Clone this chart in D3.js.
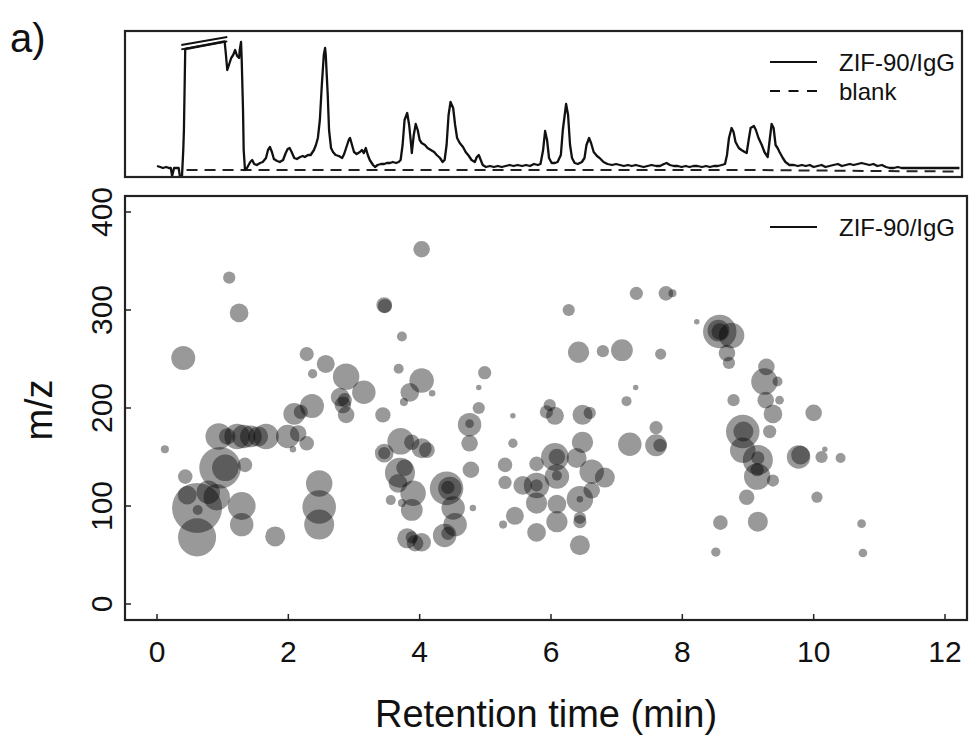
<!DOCTYPE html>
<html><head><meta charset="utf-8">
<script src="https://cdn.jsdelivr.net/npm/d3@7"></script>
<style>body{margin:0;background:#fff} svg{display:block} text{font-family:"Liberation Sans",Arial,sans-serif;fill:#111}</style>
</head><body><svg id="c" width="972" height="736"></svg>
<script>
// ---- Chromatogram (top panel), retention time in min, signal in a.u. ----
const chromTime = [0.00,0.05,0.09,0.14,0.18,0.21,0.23,0.26,0.30,0.33,0.35,0.38,0.40,0.41,0.43,1.03,1.05,1.07,1.10,1.13,1.16,1.19,1.22,1.25,1.26,1.28,1.29,1.31,1.32,1.34,1.37,1.42,1.45,1.48,1.52,1.57,1.61,1.66,1.69,1.72,1.75,1.78,1.83,1.87,1.92,1.96,1.99,2.02,2.05,2.09,2.13,2.18,2.22,2.25,2.30,2.34,2.39,2.42,2.45,2.48,2.51,2.54,2.56,2.57,2.60,2.62,2.65,2.68,2.72,2.77,2.82,2.85,2.88,2.92,2.94,2.97,3.00,3.04,3.09,3.12,3.15,3.18,3.21,3.24,3.29,3.32,3.36,3.41,3.46,3.50,3.55,3.59,3.64,3.68,3.71,3.74,3.77,3.81,3.84,3.87,3.88,3.91,3.94,3.97,4.00,4.03,4.08,4.12,4.17,4.22,4.26,4.31,4.35,4.38,4.41,4.44,4.47,4.51,4.54,4.57,4.61,4.66,4.70,4.75,4.79,4.84,4.87,4.90,4.93,4.96,5.01,5.07,5.13,5.19,5.25,5.31,5.37,5.43,5.49,5.56,5.62,5.68,5.74,5.80,5.84,5.88,5.91,5.94,5.97,6.01,6.06,6.10,6.15,6.18,6.23,6.26,6.29,6.32,6.36,6.41,6.47,6.51,6.54,6.58,6.61,6.65,6.70,6.74,6.80,6.86,6.93,6.99,7.05,7.11,7.17,7.23,7.29,7.35,7.41,7.47,7.53,7.60,7.66,7.72,7.76,7.81,7.87,7.93,7.99,8.05,8.11,8.17,8.23,8.30,8.36,8.42,8.48,8.54,8.60,8.65,8.68,8.71,8.75,8.78,8.81,8.86,8.90,8.95,8.98,9.01,9.04,9.09,9.12,9.16,9.21,9.25,9.30,9.33,9.36,9.39,9.42,9.45,9.48,9.53,9.57,9.63,9.70,9.76,9.82,9.88,9.94,10.00,10.06,10.12,10.18,10.24,10.30,10.37,10.43,10.49,10.55,10.61,10.67,10.73,10.79,10.85,10.91,10.97,11.04,11.10,11.16,11.22,11.28,11.34,11.40,11.46,11.54,11.61,11.69,11.77,11.84,11.92,11.99,12.07,12.15,12.22];
const chromSignal = [11,10,9,10,9,9,1,9,9,9,0,0,27,47,128,135.5,122,107,113,119,122,127,121,119,127,135,117,67,27,7,9,15,17,13,12,14,15,19,27,30,25,18,16,15,17,24,28,29,25,19,18,20,21,20,22,22,27,32,39,57,92,122,129,122,82,47,29,25,22,21,19,23,29,37,39,32,25,23,25,27,24,29,22,17,12,10,12,13,13,14,14,15,14,15,17,32,57,64,52,32,24,42,53,47,37,34,32,29,27,25,22,19,15,17,32,62,75,69,52,39,34,30,25,21,17,15,20,22,17,12,10,11,10,11,10,11,12,11,12,11,12,11,13,12,13,27,46,37,19,14,14,15,22,47,73,62,32,19,14,13,15,19,32,39,34,25,21,19,15,13,12,13,12,11,12,11,12,11,10,11,12,11,11,13,14,12,11,11,10,11,10,11,11,10,11,10,11,11,12,13,22,39,49,45,35,29,27,25,24,37,49,51,47,39,32,25,20,37,53,49,32,29,25,19,15,12,12,11,12,11,12,10,11,12,10,11,12,13,11,12,13,12,13,14,13,12,13,11,12,10,9,9,10,9,9,9,9,9,9,9,9,9,9,9,9,9];
const blankTime = [0.45,3.0,6.0,9.0,11.0,12.22];
const blankSignal = [7,7,7,7,6,5.5];
// clipped-peak break mark (retention time, signal)
const breakTime = [0.37,1.07];
const breakSignal = [132,140];

// ---- Bubble plot: retention time (min), m/z, relative intensity ----
const peakTime = [0.12,0.40,1.10,1.25,0.43,0.46,0.78,0.91,0.61,0.61,0.96,1.04,1.34,0.62,0.94,1.07,1.22,1.32,1.43,1.54,1.66,1.99,2.15,2.28,2.07,2.09,2.19,2.36,2.28,2.57,2.37,2.88,3.15,2.79,2.83,2.88,2.86,3.44,3.46,3.47,3.73,3.68,4.03,4.03,3.85,4.19,3.76,3.46,3.46,3.71,3.88,4.03,4.11,3.70,3.77,3.67,3.90,3.88,3.56,3.73,3.81,3.88,4.03,3.93,4.41,4.46,4.43,4.51,4.54,4.38,4.43,4.76,4.76,4.76,4.99,4.90,4.90,4.78,4.81,5.42,5.42,5.30,5.30,5.27,5.45,5.78,5.57,5.78,5.78,5.78,5.78,5.98,5.93,6.06,6.06,6.09,6.39,6.62,6.82,6.09,6.09,6.09,6.44,6.44,6.62,6.44,6.44,6.09,6.44,6.48,6.59,6.48,7.15,7.60,7.20,7.60,7.66,6.27,6.42,6.79,7.08,7.67,7.29,7.30,7.75,7.85,8.22,8.57,8.57,8.55,8.75,8.68,8.71,9.28,9.25,9.45,8.78,9.27,9.48,9.38,10.00,8.92,8.93,9.33,8.92,9.15,9.15,9.14,9.14,9.38,9.77,9.80,10.12,10.17,10.41,8.98,10.05,8.58,9.15,8.51,10.73,10.75,1.29,1.29,1.80,2.47,2.47,2.47];
const peakMz = [158,251,333,297,130,111,114,109,98,68,139,139,142,96,171,171,171,171,171,171,171,171,174,164,158,194,196,202,255,245,235,232,216,211,203,193,208,193,305,304,273,240,362,228,216,215,206,154,154,166,165,159,157,134,139,123,113,96,106,103,67,68,63,62,118,118,119,98,81,70,72,183,184,164,236,221,200,137,98,192,164,142,124,81,90,73,121,121,121,103,143,203,196,192,150,150,149,135,129,130,131,102,107,107,116,88,84,84,60,193,195,165,207,180,163,162,162,300,257,258,259,255,221,317,317,317,288,278,278,279,274,256,246,242,227,227,208,208,208,194,195,176,176,176,157,147,149,130,137,126,150,152,150,158,149,109,109,83,84,53,82,52,100,81,69,123,99,81];
const peakIntensity = [2.6,23,6,14,8.5,14,22,28,100,58,69,28,8.5,4,28,11,26,22,19,16,26,22,11,8.5,1.7,19,8,23,8,13,3.5,28,22,14,11,11,8,9.5,10,8,4,4,11,24,14,1.7,2.6,14,6,28,9.5,16,10,36,11,14,26,19,4,2.6,16,6,14,11,45,22,7,22,22,22,7,22,3,11,7,1.2,6,11,1.7,1.2,3.5,8.5,7,2.6,13,14,14,26,6,18,8.5,6,7,13,31,11,16,24,16,24,4,14,28,1.7,11,6,7,18,16,16,6,18,4,7,22,19,7,6,18,6,19,5,1.2,7,8.5,2.6,1.2,45,11,19,26,11,6,11,28,4,6,11,3,14,11,45,16,7,26,36,7,28,7,6,22,14,6,1.2,4,9.5,5,8.5,16,3.5,3,3,31,22,16,28,45,36];

const xTicks = [0,2,4,6,8,10,12];
const yTicks = [0,100,200,300,400];
const legendTopLabels = ["ZIF-90/IgG","blank"];
const legendBottomLabels = ["ZIF-90/IgG"];

const svg = d3.select("#c");
const x = d3.scaleLinear().domain([0,12]).range([157,945]);
const yTop = d3.scaleLinear().domain([0,146]).range([177,31]);
const y = d3.scaleLinear().domain([0,400]).range([604,212]);
const r = d3.scaleSqrt().domain([0,100]).range([0,25]);

// panel label
svg.append("text").attr("x",10).attr("y",52).attr("font-size",40).text("a)");

// ---- Top panel ----
svg.append("clipPath").attr("id","clipTop").append("rect")
  .attr("x",125).attr("y",31).attr("width",837).attr("height",146);
const gTop = svg.append("g").attr("clip-path","url(#clipTop)");
const chrom = chromTime.map((t,i)=>[t,chromSignal[i]]);
const blank = blankTime.map((t,i)=>[t,blankSignal[i]]);
const lineTop = d3.line().x(d=>x(d[0])).y(d=>yTop(d[1]));
gTop.append("path").datum(blank).attr("d",lineTop)
  .attr("fill","none").attr("stroke","#222").attr("stroke-width",2).attr("stroke-dasharray","11,7");
gTop.append("path").datum(chrom).attr("d",lineTop)
  .attr("fill","none").attr("stroke","#111").attr("stroke-width",2.3).attr("stroke-linejoin","round");
// break mark (double slash over the clipped peak)
svg.append("line")
  .attr("x1",x(breakTime[0])).attr("y1",yTop(breakSignal[0]))
  .attr("x2",x(breakTime[1])).attr("y2",yTop(breakSignal[1]))
  .attr("stroke","#111").attr("stroke-width",1.8);
svg.append("line")
  .attr("x1",x(breakTime[0])).attr("y1",yTop(breakSignal[0]-4.3))
  .attr("x2",x(breakTime[1])).attr("y2",yTop(breakSignal[1]-4.3))
  .attr("stroke","#111").attr("stroke-width",1.8);
svg.append("rect").attr("x",125).attr("y",31).attr("width",837).attr("height",146)
  .attr("fill","none").attr("stroke","#222").attr("stroke-width",2.2);

// top legend
const lgT = svg.append("g");
legendTopLabels.forEach((lab,i)=>{
  const yy = 62 + i*29;
  lgT.append("line").attr("x1",770).attr("x2",817).attr("y1",yy).attr("y2",yy)
    .attr("stroke","#111").attr("stroke-width",2)
    .attr("stroke-dasharray", i===1 ? "10,8.5" : null);
  lgT.append("text").attr("x",839).attr("y",yy+8.5).attr("font-size",24).text(lab);
});

// ---- Bottom panel ----
const gB = svg.append("g");
const bubbles = peakTime.map((t,i)=>({t, mz:peakMz[i], v:peakIntensity[i]}));
gB.selectAll("circle").data(bubbles).join("circle")
  .attr("cx",d=>x(d.t)).attr("cy",d=>y(d.mz)).attr("r",d=>r(d.v))
  .attr("fill","#000").attr("fill-opacity",0.4);

svg.append("rect").attr("x",125).attr("y",196).attr("width",842).attr("height",424)
  .attr("fill","none").attr("stroke","#222").attr("stroke-width",2.2);

// x axis (inward ticks)
const xAxis = svg.append("g");
xAxis.selectAll("line").data(xTicks).join("line")
  .attr("x1",d=>x(d)).attr("x2",d=>x(d)).attr("y1",620).attr("y2",614)
  .attr("stroke","#222").attr("stroke-width",1.5);
xAxis.selectAll("text").data(xTicks).join("text")
  .attr("x",d=>x(d)).attr("y",662).attr("text-anchor","middle").attr("font-size",30).text(d=>d);
// y axis (inward ticks, rotated labels)
const yAxis = svg.append("g");
yAxis.selectAll("line").data(yTicks).join("line")
  .attr("x1",125).attr("x2",131).attr("y1",d=>y(d)).attr("y2",d=>y(d))
  .attr("stroke","#222").attr("stroke-width",1.5);
yAxis.selectAll("text").data(yTicks).join("text")
  .attr("transform",d=>`translate(112,${y(d)}) rotate(-90)`)
  .attr("text-anchor","middle").attr("font-size",30).text(d=>d);

// axis titles
svg.append("text").attr("x",546).attr("y",727).attr("text-anchor","middle")
  .attr("font-size",38).text("Retention time (min)");
svg.append("text").attr("transform","translate(52,410) rotate(-90)")
  .attr("text-anchor","middle").attr("font-size",38).text("m/z");

// bottom legend
legendBottomLabels.forEach((lab,i)=>{
  const yy = 227 + i*29;
  svg.append("line").attr("x1",770).attr("x2",817).attr("y1",yy).attr("y2",yy)
    .attr("stroke","#111").attr("stroke-width",2);
  svg.append("text").attr("x",839).attr("y",yy+8.5).attr("font-size",24).text(lab);
});
</script>
</body></html>
